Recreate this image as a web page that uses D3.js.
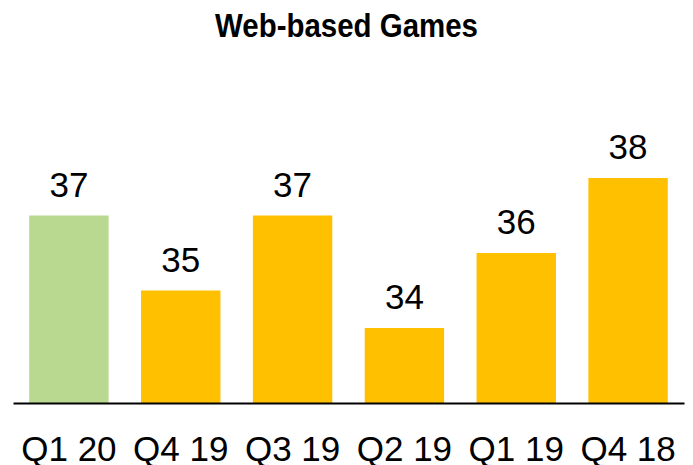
<!DOCTYPE html>
<html>
<head>
<meta charset="utf-8">
<script src="https://cdn.jsdelivr.net/npm/d3@7"></script>
<style>
  html, body { margin: 0; padding: 0; background: #fff; }
  svg { display: block; }
</style>
</head>
<body>
<svg id="chart" width="693" height="465"></svg>
<script>
// Quarterly values, newest first
const quarters = ["Q1 20", "Q4 19", "Q3 19", "Q2 19", "Q1 19", "Q4 18"];
const values = [37, 35, 37, 34, 36, 38];
const barColors = ["#B8D98F", "#FFC000", "#FFC000", "#FFC000", "#FFC000", "#FFC000"];
const title = "Web-based Games";

const svg = d3.select("#chart");
const font = "'Liberation Sans', Arial, sans-serif";

const x = d3.scaleBand()
  .domain(quarters)
  .range([13, 684])
  .paddingInner(0.29)
  .paddingOuter(0.145);

const y = d3.scaleLinear()
  .domain([32, 40])
  .range([403, 103]);

// Title
svg.append("text")
  .attr("x", 346.5)
  .attr("y", 37)
  .attr("text-anchor", "middle")
  .attr("font-family", font)
  .attr("font-weight", "bold")
  .attr("font-size", 33)
  .attr("textLength", 263)
  .attr("lengthAdjust", "spacingAndGlyphs")
  .attr("fill", "#000")
  .text(title);

// Bars
svg.selectAll("rect.bar")
  .data(values)
  .join("rect")
  .attr("class", "bar")
  .attr("x", (d, i) => x(quarters[i]))
  .attr("width", x.bandwidth())
  .attr("y", d => y(d))
  .attr("height", d => y.range()[0] - y(d))
  .attr("fill", (d, i) => barColors[i]);

// Value labels
svg.selectAll("text.value")
  .data(values)
  .join("text")
  .attr("class", "value")
  .attr("x", (d, i) => x(quarters[i]) + x.bandwidth() / 2)
  .attr("y", d => y(d) - 19)
  .attr("text-anchor", "middle")
  .attr("font-family", font)
  .attr("font-size", 35)
  .attr("fill", "#000")
  .text(d => d);

// Category axis
const axis = svg.append("g")
  .attr("transform", "translate(0,403)")
  .call(d3.axisBottom(x).tickSize(0).tickPadding(0).tickSizeOuter(0));

axis.select(".domain")
  .attr("stroke", "#000")
  .attr("stroke-width", 2);

axis.selectAll(".tick text")
  .attr("font-family", font)
  .attr("font-size", 35)
  .attr("fill", "#000")
  .attr("dy", null)
  .attr("y", 58);
</script>
</body>
</html>
